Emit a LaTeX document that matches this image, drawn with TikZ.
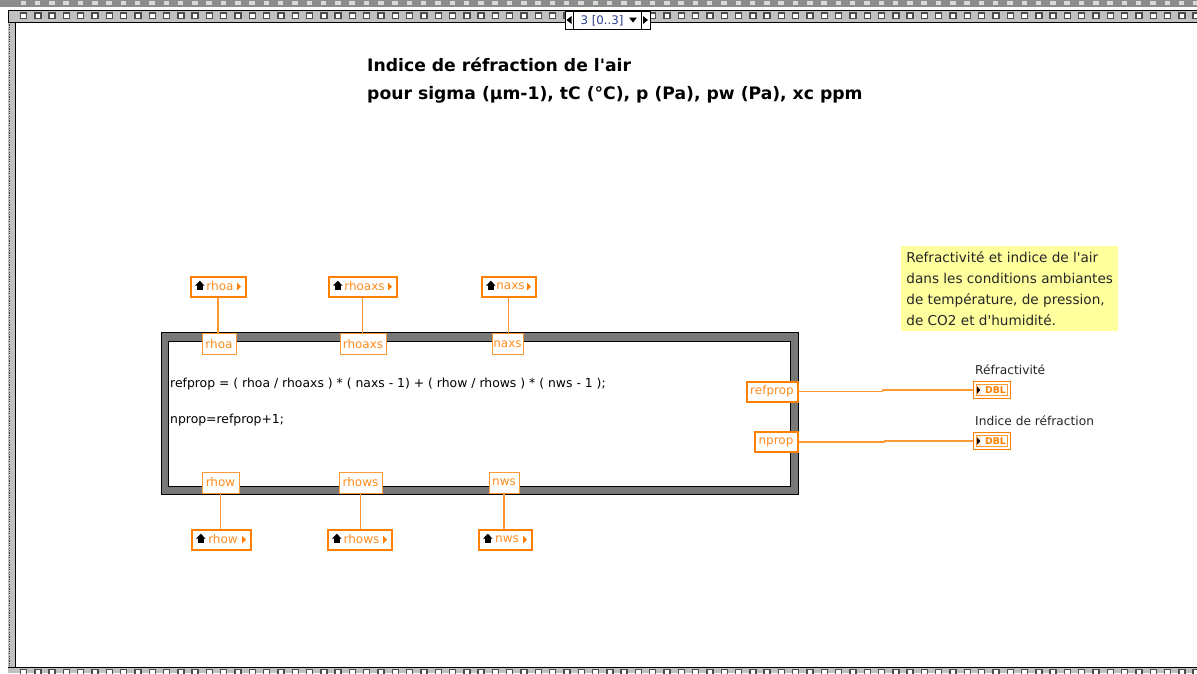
\documentclass[tikz,border=0pt]{standalone}
\usepackage{fontspec}
\setmainfont{DejaVu Sans}[Ligatures=TeXOff]
\definecolor{lvorange}{RGB}{255,127,0}
\definecolor{lvwire}{RGB}{255,153,51}
\definecolor{lvtext}{RGB}{255,140,30}
\definecolor{commentfill}{RGB}{255,255,158}
\definecolor{framegray}{RGB}{120,120,120}
\definecolor{bandgray}{RGB}{192,192,192}
\definecolor{selblue}{RGB}{40,60,140}
\newcommand\lvctrlicons[1]{%
  \begin{scope}[shift={(#1.west)}]
    \fill[black] (5.6,-0.9) -- (10.3,-5.8) -- (15,-0.9) -- cycle;
    \fill[black] (7.2,-1.3) rectangle (13.4,3.2);
  \end{scope}
  \begin{scope}[shift={(#1.east)}]
    \fill[lvorange] (-9.5,-4) -- (-5.5,0) -- (-9.5,4) -- cycle;
  \end{scope}}
\newcommand\lvindicons[1]{%
  \begin{scope}[shift={(#1.west)}]
    \fill[lvorange!18] (3.3,-5.3) rectangle (8.5,5.3);
    \draw[lvwire, line width=0.6] (3.3,-5.3) rectangle (35,5.3);
    \fill[black] (4.5,-3.5) -- (7.5,0) -- (4.5,3.5) -- cycle;
  \end{scope}}
\begin{document}
\begin{tikzpicture}[x=1pt,y=-1pt,
  base/.style={font=\fontsize{12}{14}\selectfont},
  ctrl/.style={base, draw=lvorange, line width=2, fill=white, text=lvtext,
    minimum height=20, inner sep=0},
  term/.style={base, draw=lvwire, line width=1, fill=white, text=lvtext,
    minimum height=21, inner sep=0},
  outterm/.style={base, draw=lvorange, line width=2, fill=white, text=lvtext,
    minimum height=20, inner sep=0},
  ind/.style={draw=lvorange, line width=1.6, fill=white, text=lvorange,
    minimum width=37, minimum height=17, inner sep=0,
    font=\bfseries\fontsize{9.3}{10}\selectfont},
  wire/.style={draw=lvwire, line width=1.2},
  lbl/.style={font=\fontsize{12.2}{14}\selectfont, text=black!85, anchor=west, inner sep=0}
]
\useasboundingbox (0,0) rectangle (1197,673);
\fill[white] (0,0) rectangle (1197,673);

% blurred strip of the structure behind
\fill[black!45] (0,0) rectangle (1197,7);
\foreach \i in {0,...,84} \fill[black!15] ({20.5+14.3*\i},1.3) rectangle ++(5.5,4);

% left border
\fill[bandgray] (8,10.5) rectangle (16,667);
\draw[black!75, line width=1.6, dash pattern=on 1.2pt off 1.2pt] (9.3,22) -- (9.3,667);
\draw[black, line width=1] (15.5,22) -- (15.5,667);

% top band
\draw[black, line width=1, fill=bandgray] (8,10.5) rectangle (1200,22);
\foreach \i in {0,...,82} \draw[black!70, line width=1.4, fill=white] ({20.5+14.3*\i},13) rectangle ++(6,5.6);

% bottom band
\fill[bandgray] (8,667) rectangle (1197,673);
\draw[black, line width=1] (8,667) -- (1197,667);
\foreach \i in {0,...,82} \draw[black!70, line width=1.4, fill=white] ({20.5+14.3*\i},669.4) rectangle ++(6,5.6);

% frame selector
\node[draw=black, line width=0.8, fill=white, minimum width=85, minimum height=18, inner sep=0] (sel) at (607.5,20) {};
\draw[black, line width=0.8] (573,11) -- (573,29) (641,11) -- (641,29);
\fill[black] (571.5,16) -- (566.5,20) -- (571.5,24) -- cycle;
\fill[black] (643,16) -- (648,20) -- (643,24) -- cycle;
\fill[black] (629,17.5) -- (637,17.5) -- (633,22.5) -- cycle;
\node[font=\fontsize{11.8}{12}\selectfont, text=selblue, inner sep=0] (seltext) at (602,20.5) {3 [0..3]};

% title
\node[anchor=north west, align=left, inner sep=0, text=black,
  font=\bfseries\fontsize{17.2}{28}\selectfont] (title) at (367,58)
  {Indice de réfraction de l'air\\pour sigma (µm-1), tC (°C), p (Pa), pw (Pa), xc ppm};

% formula node frame
\draw[black, line width=0.8, fill=framegray] (161,332.5) rectangle (798,494);
\draw[black, line width=0.8, fill=white] (168,341) rectangle (790.5,486);
\node[base, anchor=west, inner sep=0, font=\fontsize{12.4}{14}\selectfont] (code1) at (170,384)
  {refprop = ( rhoa / rhoaxs ) * ( naxs - 1) + ( rhow / rhows ) * ( nws - 1 );};
\node[base, anchor=west, inner sep=0, font=\fontsize{12.4}{14}\selectfont] (code2) at (170,420)
  {nprop=refprop+1;};

% input terminals
\node[term, minimum width=34] (t_rhoa) at (219,344) {rhoa};
\node[term, minimum width=46] (t_rhoaxs) at (363,344) {rhoaxs};
\node[term, minimum width=31] (t_naxs) at (507.5,344) {naxs};
\node[term, minimum width=37] (t_rhow) at (220.5,482.5) {rhow};
\node[term, minimum width=43] (t_rhows) at (360.5,482.5) {rhows};
\node[term, minimum width=30] (t_nws) at (504,482.5) {nws};

% controls
\node[ctrl, minimum width=55] (c_rhoa) at (218,286.5) {\hspace*{4pt}rhoa};
\node[ctrl, minimum width=68] (c_rhoaxs) at (362.5,286.5) {\hspace*{4pt}rhoaxs};
\node[ctrl, minimum width=54] (c_naxs) at (508.5,286.5) {\hspace*{4pt}naxs};
\node[ctrl, minimum width=59] (c_rhow) at (221,539.5) {\hspace*{4pt}rhow};
\node[ctrl, minimum width=64] (c_rhows) at (359.5,539.5) {\hspace*{4pt}rhows};
\node[ctrl, minimum width=53] (c_nws) at (505,539.5) {\hspace*{4pt}nws};
\foreach \c in {c_rhoa,c_rhoaxs,c_naxs,c_rhow,c_rhows,c_nws} {\lvctrlicons{\c}}

% wires to inputs
\draw[wire] (c_rhoa.south) -- (c_rhoa.south |- t_rhoa.north);
\draw[wire] (c_rhoaxs.south) -- (c_rhoaxs.south |- t_rhoaxs.north);
\draw[wire] (c_naxs.south) -- (c_naxs.south |- t_naxs.north);
\draw[wire] (t_rhow.south) -- (t_rhow.south |- c_rhow.north);
\draw[wire] (t_rhows.south) -- (t_rhows.south |- c_rhows.north);
\draw[wire] (t_nws.south) -- (t_nws.south |- c_nws.north);

% outputs
\node[outterm, minimum width=51] (o_ref) at (772,391.5) {refprop};
\node[outterm, minimum width=43] (o_np) at (776,442) {nprop};
\node[ind] (i_ref) at (992,390) {\hspace*{7pt}DBL};
\node[ind] (i_np) at (992,441) {\hspace*{7pt}DBL};
\lvindicons{i_ref}
\lvindicons{i_np}
\node[lbl] (l_ref) at (975,370) {Réfractivité};
\node[lbl] (l_np) at (975,421) {Indice de réfraction};
\draw[wire] (o_ref.east) -- ++(84,0) |- (i_ref.west);
\draw[wire] (o_np.east) -- ++(86,0) |- (i_np.west);

% comment
\node[fill=commentfill, anchor=north west, minimum width=217, minimum height=85,
  inner xsep=3, inner ysep=2, align=left, text=black!85,
  font=\fontsize{13.6}{21}\selectfont] (comment) at (901,246)
  {Refractivité et indice de l'air\\dans les conditions ambiantes\\de température, de pression,\\de CO2 et d'humidité.};
\end{tikzpicture}
\end{document}
